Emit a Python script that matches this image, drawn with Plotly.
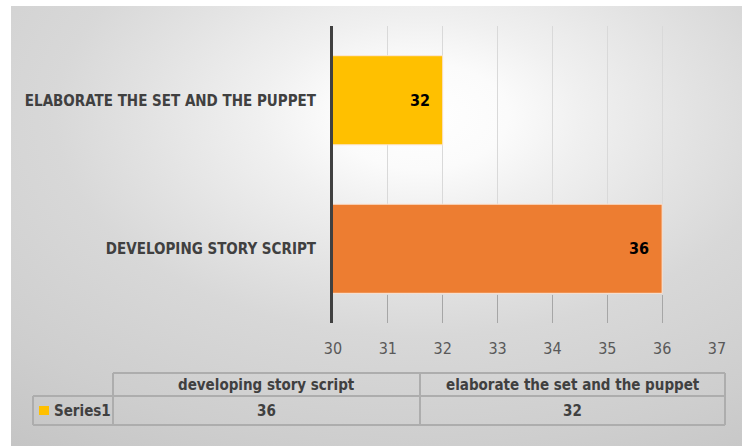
import base64
import plotly.graph_objects as go

# ---- data ----
categories = ["developing story script", "elaborate the set and the puppet"]
values = [36, 32]
bar_colors = ["#ED7D31", "#FFC000"]
series_name = "Series1"
x_ticks = [30, 31, 32, 33, 34, 35, 36, 37]

W, H = 742, 446
FONT = "Liberation Sans Narrow, DejaVu Sans Condensed, Arial Narrow, sans-serif"


def px(x):
    return x / W


def py(y):
    return 1 - y / H


# radial-gradient chart-area background (white core fading to grey)
svg = f"""<svg xmlns='http://www.w3.org/2000/svg' width='{W}' height='{H}' preserveAspectRatio='none'>
<defs><radialGradient id='g' cx='0.56' cy='0.25' r='1' gradientUnits='objectBoundingBox'>
<stop offset='0' stop-color='#ffffff'/>
<stop offset='0.12' stop-color='#fbfbfb'/>
<stop offset='0.22' stop-color='#f0f0f0'/>
<stop offset='0.38' stop-color='#e2e2e2'/>
<stop offset='0.5' stop-color='#d8d8d8'/>
<stop offset='0.6' stop-color='#d4d4d4'/>
<stop offset='0.75' stop-color='#cecece'/>
<stop offset='0.95' stop-color='#c4c4c4'/>
<stop offset='1' stop-color='#c2c2c2'/>
</radialGradient></defs>
<rect x='11' y='6' width='{W-11}' height='{H-6}' fill='url(#g)'/>
</svg>"""
bg_src = "data:image/svg+xml;base64," + base64.b64encode(svg.encode()).decode()

fig = go.Figure()
fig.add_trace(go.Bar(
    y=categories,
    x=values,
    base=0,
    orientation="h",
    marker=dict(color=bar_colors, line=dict(color="#fbe5d6", width=1)),
    width=0.6,
    name=series_name,
    showlegend=False,
    hoverinfo="skip",
))

annotations = []
# value labels inside the bar ends
for c, v in zip(categories, values):
    annotations.append(dict(
        x=v, y=c, xref="x", yref="y", text=f"<b>{v}</b>", showarrow=False,
        xanchor="right", xshift=-11, font=dict(family=FONT, size=16, color="#000000"),
    ))

# data table under the chart
tbl_left_hdr, tbl_left_row, tbl_mid, tbl_right = 113, 33, 420, 725
tbl_top, tbl_div, tbl_bot = 373, 396, 425
col_bounds = [(tbl_left_hdr, tbl_mid), (tbl_mid, tbl_right)]
line_style = dict(color="#adadad", width=2)
shapes = [
    dict(type="line", xref="paper", yref="paper", x0=px(tbl_left_hdr), x1=px(tbl_right),
         y0=py(tbl_top), y1=py(tbl_top), line=line_style),
    dict(type="line", xref="paper", yref="paper", x0=px(tbl_left_row), x1=px(tbl_right),
         y0=py(tbl_div), y1=py(tbl_div), line=line_style),
    dict(type="line", xref="paper", yref="paper", x0=px(tbl_left_row), x1=px(tbl_right),
         y0=py(tbl_bot), y1=py(tbl_bot), line=line_style),
    dict(type="line", xref="paper", yref="paper", x0=px(tbl_left_row), x1=px(tbl_left_row),
         y0=py(tbl_div), y1=py(tbl_bot), line=line_style),
    dict(type="line", xref="paper", yref="paper", x0=px(tbl_left_hdr), x1=px(tbl_left_hdr),
         y0=py(tbl_top), y1=py(tbl_bot), line=line_style),
    dict(type="line", xref="paper", yref="paper", x0=px(tbl_mid), x1=px(tbl_mid),
         y0=py(tbl_top), y1=py(tbl_bot), line=line_style),
    dict(type="line", xref="paper", yref="paper", x0=px(tbl_right), x1=px(tbl_right),
         y0=py(tbl_top), y1=py(tbl_bot), line=line_style),
    # legend key for the series row
    dict(type="rect", xref="paper", yref="paper", x0=px(39), x1=px(49),
         y0=py(415), y1=py(406), fillcolor=bar_colors[1], line=dict(width=0)),
]
for (a, b), c, v in zip(col_bounds, categories, values):
    cx = px((a + b) / 2)
    annotations.append(dict(
        x=cx, y=py((tbl_top + tbl_div) / 2), xref="paper", yref="paper",
        text=f"<b>{c}</b>", showarrow=False, xanchor="center", yanchor="middle",
        font=dict(family=FONT, size=15, color="#404040"),
    ))
    annotations.append(dict(
        x=cx, y=py((tbl_div + tbl_bot) / 2), xref="paper", yref="paper",
        text=f"<b>{v}</b>", showarrow=False, xanchor="center", yanchor="middle",
        font=dict(family=FONT, size=15, color="#404040"),
    ))
annotations.append(dict(
    x=px(52), y=py((tbl_div + tbl_bot) / 2), xref="paper", yref="paper",
    text=f"<b>{series_name}</b>", showarrow=False, xanchor="left", yanchor="middle",
    font=dict(family=FONT, size=15, color="#404040"),
))

fig.update_layout(
    width=W, height=H,
    margin=dict(l=0, r=0, t=0, b=0, autoexpand=False),
    paper_bgcolor="#ffffff",
    plot_bgcolor="rgba(0,0,0,0)",
    images=[dict(source=bg_src, xref="paper", yref="paper", x=0, y=1,
                 sizex=1, sizey=1, xanchor="left", yanchor="top",
                 sizing="stretch", layer="below")],
    xaxis=dict(
        domain=[px(333), px(717)],
        range=[30, 37],
        tickvals=x_ticks,
        showgrid=True, gridcolor="#d9d9d9", gridwidth=1,
        zeroline=False, showline=False,
        ticks="inside", ticklen=28, tickcolor="#a6a6a6", tickwidth=1,
        ticklabelstandoff=14,
        tickfont=dict(family=FONT, size=16, color="#595959"),
        automargin=False,
        fixedrange=True,
    ),
    yaxis=dict(
        domain=[py(323), py(26)],
        range=[-0.5, 1.5],
        tickvals=categories,
        ticktext=[f"<b>{c.upper()}</b>" for c in categories],
        showgrid=False, zeroline=False,
        showline=True, linecolor="#404040", linewidth=3,
        ticks="", ticklabelstandoff=11,
        tickfont=dict(family=FONT, size=15, color="#404040"),
        automargin=False,
        fixedrange=True,
    ),
    shapes=shapes,
    annotations=annotations,
    bargap=0.4,
)

fig.write_html("out.html")
